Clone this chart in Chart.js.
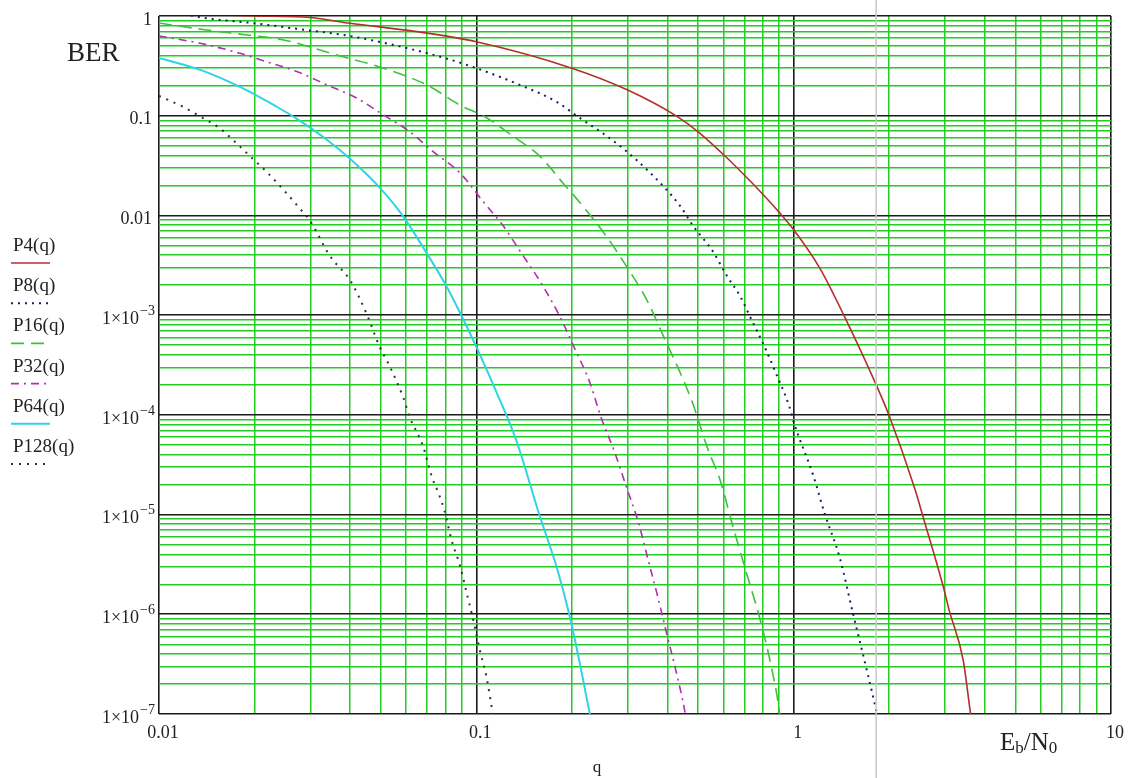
<!DOCTYPE html>
<html>
<head>
<meta charset="utf-8">
<title>BER</title>
<script src="https://cdn.jsdelivr.net/npm/chart.js@4.4.0/dist/chart.umd.min.js"></script>
<style>
  body { margin: 0; background: #fff; }
  canvas { display: block; }
</style>
</head>
<body>
<canvas id="myChart" width="1133" height="778"></canvas>
<script>
// values, q = Eb/N0 (both axes log)
const seriesNames = ['P4(q)', 'P8(q)', 'P16(q)', 'P32(q)', 'P64(q)', 'P128(q)'];

const q4 = [0.015, 0.02, 0.03, 0.04, 0.065, 0.1, 0.2, 0.3, 0.43, 0.5, 0.61, 0.7, 0.79, 0.89, 1.0, 1.21, 1.45, 1.82, 2.0, 2.41, 2.55, 2.96, 3.09, 3.42, 3.61, 3.7];
const p4 = [1.03, 1.0, 0.966, 0.845, 0.697, 0.552, 0.30, 0.181, 0.098, 0.069, 0.039, 0.0253, 0.017, 0.0112, 0.0072, 0.00295, 9.5e-4, 2.0e-4, 9.8e-5, 1.8e-5, 9.8e-6, 1.9e-6, 1.1e-6, 3.5e-7, 1.0e-7, 6e-8];

const q8 = [0.012, 0.0135, 0.02, 0.029, 0.038, 0.052, 0.08, 0.1, 0.137, 0.179, 0.207, 0.28, 0.354, 0.44, 0.48, 0.557, 0.615, 0.678, 0.727, 0.81, 0.88, 0.97, 1.0, 1.156, 1.25, 1.4, 1.54, 1.7, 1.83, 1.87];
const p8 = [1.05, 0.97, 0.845, 0.724, 0.646, 0.532, 0.377, 0.30, 0.204, 0.138, 0.10, 0.0513, 0.0265, 0.0123, 0.008, 0.00434, 0.0025, 0.00155, 9.8e-4, 4.8e-4, 2.6e-4, 1.2e-4, 8.5e-5, 2.4e-5, 1.04e-5, 3.6e-6, 1.0e-6, 2.75e-7, 1.0e-7, 7e-8];

const q16 = [0.01, 0.0141, 0.0189, 0.0247, 0.0363, 0.0509, 0.0697, 0.0907, 0.105, 0.131, 0.159, 0.188, 0.217, 0.257, 0.297, 0.345, 0.394, 0.44, 0.48, 0.537, 0.587, 0.64, 0.71, 0.785, 0.85, 0.9, 0.91];
const p16 = [0.85, 0.724, 0.646, 0.575, 0.407, 0.30, 0.204, 0.123, 0.10, 0.0617, 0.0389, 0.0209, 0.0123, 0.00617, 0.0031, 0.00141, 5.6e-4, 2.6e-4, 1.32e-4, 4.5e-5, 2.2e-5, 8.1e-6, 2.6e-6, 8.7e-7, 3.0e-7, 1.1e-7, 8e-8];

const q32 = [0.01, 0.0135, 0.0172, 0.0218, 0.0272, 0.0338, 0.042, 0.0509, 0.0617, 0.0731, 0.089, 0.105, 0.121, 0.14, 0.16, 0.183, 0.205, 0.228, 0.247, 0.273, 0.297, 0.325, 0.348, 0.373, 0.40, 0.427, 0.453, 0.46];
const p32 = [0.63, 0.532, 0.44, 0.348, 0.277, 0.204, 0.15, 0.102, 0.069, 0.0437, 0.0265, 0.0138, 0.008, 0.004, 0.0021, 9.8e-4, 4.5e-4, 2.1e-4, 9.5e-5, 4.2e-5, 1.9e-5, 8.1e-6, 3.5e-6, 1.5e-6, 6.0e-7, 2.6e-7, 1.1e-7, 8e-8];

const q64 = [0.01, 0.0135, 0.0184, 0.0235, 0.0272, 0.0338, 0.04, 0.0496, 0.0588, 0.0697, 0.0805, 0.0899, 0.1, 0.116, 0.1335, 0.1587, 0.179, 0.197, 0.212, 0.228, 0.232];
const p64 = [0.38, 0.288, 0.188, 0.123, 0.093, 0.0575, 0.037, 0.019, 0.0098, 0.0042, 0.00195, 9.8e-4, 4.8e-4, 1.66e-4, 5.6e-5, 9.5e-6, 3.0e-6, 9.5e-7, 3.2e-7, 1.0e-7, 8e-8];

const q128 = [0.01, 0.0119, 0.0135, 0.0156, 0.0176, 0.0194, 0.0218, 0.0247, 0.0278, 0.03, 0.0346, 0.04, 0.045, 0.0496, 0.0534, 0.0588, 0.0617, 0.068, 0.0724, 0.076, 0.0795, 0.0835, 0.089, 0.0934, 0.098, 0.1025, 0.1075, 0.1127, 0.114];
const p128 = [0.158, 0.123, 0.098, 0.074, 0.0525, 0.039, 0.0275, 0.018, 0.0117, 0.0087, 0.0039, 0.00224, 0.00105, 4.8e-4, 3.05e-4, 1.5e-4, 9.5e-5, 4.8e-5, 2.4e-5, 1.64e-5, 1.07e-5, 5.6e-6, 3.0e-6, 1.6e-6, 8.5e-7, 4.4e-7, 2.4e-7, 1.0e-7, 8e-8];

// tick labels (the part after ^ is drawn as exponent)
const xTickValues = [0.01, 0.1, 1, 10];
const xTickLabels = ['0.01', '0.1', '1', '10'];
const yTickValues = [1, 0.1, 0.01, 1e-3, 1e-4, 1e-5, 1e-6, 1e-7];
const yTickLabels = ['1', '0.1', '0.01', '1×10^−3', '1×10^−4', '1×10^−5', '1×10^−6', '1×10^−7'];

// the grey cursor line of the original
const markerQ = 1.82;

const serif = '"Liberation Serif", "DejaVu Serif", serif';

// line styles per series
const styles = [
    { color: '#b3302a', dash: [], width: 1.6 },
    { color: '#1c1c66', dash: [2, 5], width: 2 },
    { color: '#3cc23c', dash: [13, 7], width: 1.6 },
    { color: '#b030b0', dash: [8, 5, 2, 5], width: 1.6 },
    { color: '#2fd3e3', dash: [], width: 2 },
    { color: '#333333', dash: [2, 6], width: 2 }
];

const qs = [q4, q8, q16, q32, q64, q128];
const ps = [p4, p8, p16, p32, p64, p128];

const datasets = seriesNames.map((name, i) => ({
    label: name,
    data: qs[i].map((q, j) => ({ x: q, y: ps[i][j] })),
    borderColor: styles[i].color,
    borderDash: styles[i].dash,
    borderWidth: styles[i].width,
    pointRadius: 0,
    cubicInterpolationMode: 'monotone',
    fill: false
}));

function isDecade(v) {
    const l = Math.log10(v);
    return Math.abs(l - Math.round(l)) < 1e-6;
}

// 1..9 x 10^n grid lines for the log axes
function logTicks(minExp, maxExp) {
    const t = [];
    for (let e = minExp; e < maxExp; e++) {
        for (let m = 1; m < 10; m++) {
            t.push({ value: parseFloat((m * Math.pow(10, e)).toPrecision(6)) });
        }
    }
    t.push({ value: Math.pow(10, maxExp) });
    return t;
}

const gridStyle = {
    drawTicks: false,
    color: (c) => isDecade(c.tick.value) ? '#1a1a1a' : '#22cc22',
    lineWidth: (c) => isDecade(c.tick.value) ? 1.6 : 1.5
};

// texts, legend and cursor line (mathcad style)
const decorations = {
    id: 'decorations',
    afterDraw(chart) {
        const ctx = chart.ctx;
        const xs = chart.scales.x;
        const ys = chart.scales.y;
        ctx.save();

        // cursor
        const mx = xs.getPixelForValue(markerQ);
        ctx.strokeStyle = '#c8c8c8';
        ctx.lineWidth = 1.5;
        ctx.beginPath();
        ctx.moveTo(mx, 0);
        ctx.lineTo(mx, chart.height);
        ctx.stroke();

        ctx.fillStyle = '#222';
        ctx.textBaseline = 'middle';

        // y tick labels
        yTickValues.forEach((v, i) => {
            const y = ys.getPixelForValue(v) + 4;
            const parts = yTickLabels[i].split('^');
            const right = 152;
            if (parts.length === 1) {
                ctx.font = '18px ' + serif;
                ctx.textAlign = 'right';
                ctx.fillText(parts[0], right, y);
            } else {
                ctx.font = '14px ' + serif;
                const ew = ctx.measureText(parts[1]).width;
                ctx.textAlign = 'right';
                ctx.fillText(parts[1], right + 3, y - 8);
                ctx.font = '18px ' + serif;
                ctx.fillText(parts[0], right + 3 - ew - 1, y);
            }
        });

        // x tick labels
        ctx.font = '18px ' + serif;
        ctx.textAlign = 'center';
        xTickValues.forEach((v, i) => {
            ctx.fillText(xTickLabels[i], xs.getPixelForValue(v) + 4, 733);
        });

        // axis titles
        ctx.textAlign = 'left';
        ctx.font = '27px ' + serif;
        ctx.fillText('BER', 67, 54);

        let x = 1000;
        const by = 743;
        ctx.font = '25px ' + serif;
        ctx.fillText('E', x, by); x += ctx.measureText('E').width;
        ctx.font = '17px ' + serif;
        ctx.fillText('b', x, by + 6); x += ctx.measureText('b').width;
        ctx.font = '25px ' + serif;
        ctx.fillText('/N', x, by); x += ctx.measureText('/N').width;
        ctx.font = '17px ' + serif;
        ctx.fillText('0', x, by + 6);

        ctx.font = '17px ' + serif;
        ctx.textAlign = 'center';
        ctx.fillText('q', 597, 768);

        // legend: name with a line sample below it
        ctx.textAlign = 'left';
        chart.data.datasets.forEach((ds, i) => {
            const ty = 246 + i * 40.2;
            ctx.font = '19px ' + serif;
            ctx.fillStyle = '#222';
            ctx.fillText(ds.label, 13, ty);
            ctx.strokeStyle = ds.borderColor;
            ctx.lineWidth = ds.borderWidth;
            ctx.setLineDash(ds.borderDash);
            ctx.beginPath();
            ctx.moveTo(11, ty + 17);
            ctx.lineTo(50, ty + 17);
            ctx.stroke();
            ctx.setLineDash([]);
        });

        ctx.restore();
    }
};

const config = {
    type: 'line',
    data: { datasets },
    options: {
        responsive: false,
        animation: false,
        events: [],
        layout: { padding: { left: 159, right: 22, top: 16, bottom: 64 } },
        plugins: {
            legend: { display: false },
            tooltip: { enabled: false }
        },
        scales: {
            x: {
                type: 'logarithmic',
                min: 0.01,
                max: 10,
                afterBuildTicks: (s) => { s.ticks = logTicks(-2, 1); },
                ticks: { display: false },
                grid: gridStyle,
                border: { display: false }
            },
            y: {
                type: 'logarithmic',
                min: 1e-7,
                max: 1,
                afterBuildTicks: (s) => { s.ticks = logTicks(-7, 0); },
                ticks: { display: false },
                grid: gridStyle,
                border: { display: false }
            }
        }
    },
    plugins: [decorations]
};

const myChart = new Chart(document.getElementById('myChart'), config);
</script>
</body>
</html>
